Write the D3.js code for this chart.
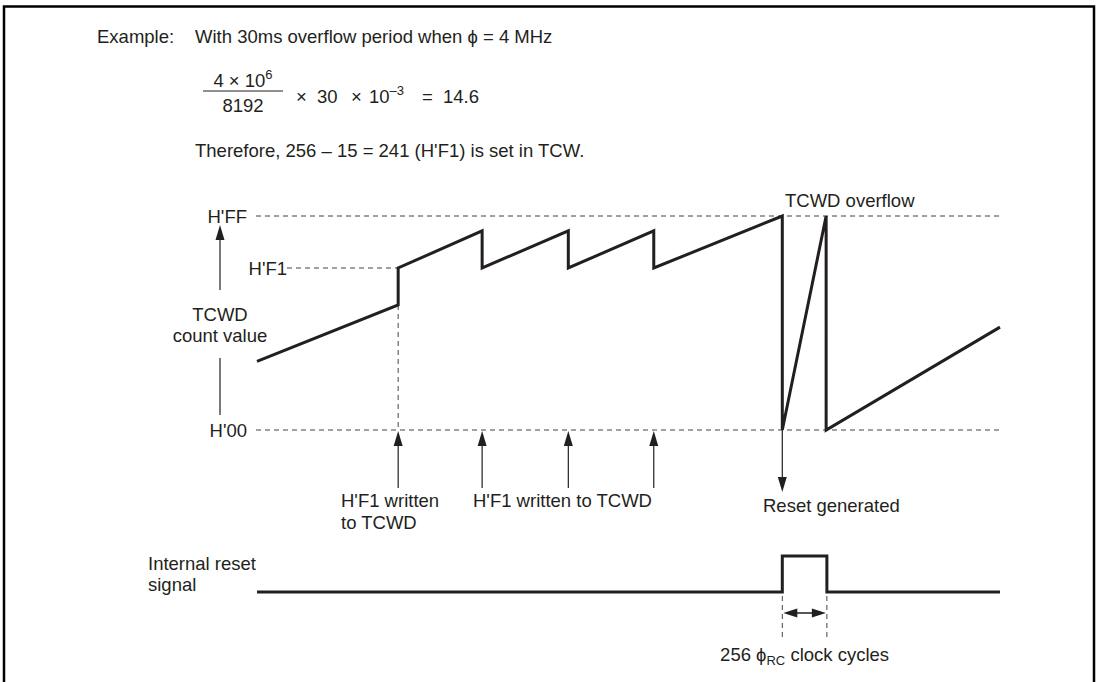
<!DOCTYPE html>
<html>
<head>
<meta charset="utf-8">
<script src="https://cdnjs.cloudflare.com/ajax/libs/d3/7.8.5/d3.min.js"></script>
<style>
  body { margin: 0; background: #fff; }
  text { font-family: "Liberation Sans", Arial, sans-serif; font-size: 18.5px; fill: #231f20; }
</style>
</head>
<body>
<div id="my_dataviz"></div>
<script>
// counter levels (named ticks on the left)
var levelNames = ["H'00", "H'F1", "H'FF"];
var levelValues = [0, 241, 255];

// TCWD count waveform: time (0-100) and count value
var countTime = [0, 19, 19, 30.3, 30.3, 41.9, 41.9, 53.4, 53.4, 70.7, 70.7, 76.6, 76.6, 100];
var countValue = [102, 186, 241, 251, 241, 251, 241, 251, 241, 255, 0, 255, 0, 153];

// times where H'F1 is written, and the reset time
var writeTimes = [19, 30.3, 41.9, 53.4];
var resetTime = 70.7;

// internal reset signal
var resetSigTime = [0, 70.7, 70.7, 76.7, 76.7, 100];
var resetSigLevel = [0, 0, 1, 1, 0, 0];

var width = 1100, height = 682;
var ink = "#231f20";

var svg = d3.select("#my_dataviz")
  .append("svg")
    .attr("width", width)
    .attr("height", height);

// frame (no bottom edge, it is cut by the page)
svg.append("path")
  .attr("d", "M4,690 L4,6.5 L1094,6.5 L1094,690")
  .attr("fill", "none")
  .attr("stroke", "#000")
  .attr("stroke-width", 2.5);

// scales
var x = d3.scaleLinear().domain([0, 100]).range([257, 1000]);
var y = d3.scaleLinear().domain([0, 241, 255]).range([430, 268, 216]);
var ySig = d3.scaleLinear().domain([0, 1]).range([592, 556]);

// filled arrow head, tip at (tx,ty), pointing in direction dir (radians)
function arrowHead(g, tx, ty, dir, len, half) {
  var bx = tx - Math.cos(dir) * len, by = ty - Math.sin(dir) * len;
  var px = -Math.sin(dir) * half, py = Math.cos(dir) * half;
  g.append("path")
    .attr("d", "M" + tx + "," + ty + "L" + (bx + px) + "," + (by + py) + "L" + (bx - px) + "," + (by - py) + "Z")
    .attr("fill", ink);
}

// ---- header text ----
svg.append("text").attr("x", 97).attr("y", 43).text("Example:");
svg.append("text").attr("x", 195).attr("y", 43).text("With 30ms overflow period when \u03D5 = 4 MHz");

// fraction
var num = svg.append("text").attr("x", 243).attr("y", 87).attr("text-anchor", "middle");
num.append("tspan").text("4 \u00D7 10");
num.append("tspan").attr("dy", -8).style("font-size", "13px").text("6");
svg.append("text").attr("x", 243).attr("y", 112).attr("text-anchor", "middle").text("8192");
svg.append("line")
  .attr("x1", 203).attr("x2", 283).attr("y1", 91).attr("y2", 91)
  .attr("stroke", ink).attr("stroke-width", 1.2);

var rest = svg.append("text").attr("y", 103);
rest.append("tspan").attr("x", 296).text("\u00D7");
rest.append("tspan").attr("x", 317).text("30");
rest.append("tspan").attr("x", 351).text("\u00D7");
rest.append("tspan").attr("x", 369).text("10");
rest.append("tspan").attr("dy", -8).style("font-size", "13px").text("\u20133");
rest.append("tspan").attr("x", 422).attr("dy", 8).text("=");
rest.append("tspan").attr("x", 443).text("14.6");

svg.append("text").attr("x", 195).attr("y", 157)
  .text("Therefore, 256 \u2013 15 = 241 (H'F1) is set in TCW.");

// ---- level guide lines ----
var dash = "5,4";
svg.selectAll(".lvl")
  .data([0, 255])
  .enter().append("line")
    .attr("x1", x(0) - 1).attr("x2", x(100))
    .attr("y1", function(d) { return y(d); })
    .attr("y2", function(d) { return y(d); })
    .attr("stroke", "#444").attr("stroke-width", 1)
    .attr("stroke-dasharray", dash);

// H'F1 short guide
svg.append("line")
  .attr("x1", 287).attr("x2", x(writeTimes[0]))
  .attr("y1", y(241)).attr("y2", y(241))
  .attr("stroke", "#444").attr("stroke-dasharray", dash);

// first write: dashed drop down to H'00
svg.append("line")
  .attr("x1", x(writeTimes[0])).attr("x2", x(writeTimes[0]))
  .attr("y1", y(186)).attr("y2", y(0))
  .attr("stroke", "#444").attr("stroke-dasharray", dash);

// level labels
svg.selectAll(".lvlLabel")
  .data(levelValues)
  .enter().append("text")
    .attr("x", function(d) { return d === 241 ? 287 : 247; })
    .attr("y", function(d) { return y(d) + 7; })
    .attr("text-anchor", "end")
    .text(function(d, i) { return levelNames[i]; });

// left axis arrow + label
svg.append("line").attr("x1", 220).attr("x2", 220).attr("y1", 290).attr("y2", y(255) + 12)
  .attr("stroke", ink).attr("stroke-width", 1.2);
arrowHead(svg, 220, y(255) + 9, -Math.PI / 2, 15, 4.5);
svg.append("line").attr("x1", 220).attr("x2", 220).attr("y1", 358).attr("y2", 415)
  .attr("stroke", ink).attr("stroke-width", 1.2);
svg.append("text").attr("x", 220).attr("y", 321).attr("text-anchor", "middle").text("TCWD");
svg.append("text").attr("x", 220).attr("y", 342).attr("text-anchor", "middle").text("count value");

// ---- TCWD count waveform ----
var countPts = countTime.map(function(t, i) { return [t, countValue[i]]; });
svg.append("path")
  .datum(countPts)
  .attr("fill", "none")
  .attr("stroke", ink)
  .attr("stroke-width", 3)
  .attr("stroke-linejoin", "miter")
  .attr("d", d3.line().x(function(d) { return x(d[0]); }).y(function(d) { return y(d[1]); }));

svg.append("text").attr("x", 785).attr("y", 207).text("TCWD overflow");

// write arrows (pointing up to H'00)
writeTimes.forEach(function(t) {
  svg.append("line")
    .attr("x1", x(t)).attr("x2", x(t))
    .attr("y1", 488).attr("y2", y(0) + 10)
    .attr("stroke", ink).attr("stroke-width", 1.2);
  arrowHead(svg, x(t), y(0) + 1, -Math.PI / 2, 15, 4.5);
});
svg.append("text").attr("x", 341).attr("y", 507).text("H'F1 written");
svg.append("text").attr("x", 341).attr("y", 529).text("to TCWD");
svg.append("text").attr("x", 473).attr("y", 507).text("H'F1 written to TCWD");

// reset arrow (pointing down)
svg.append("line")
  .attr("x1", x(resetTime)).attr("x2", x(resetTime))
  .attr("y1", y(0)).attr("y2", 482)
  .attr("stroke", ink).attr("stroke-width", 1.2);
arrowHead(svg, x(resetTime), 492, Math.PI / 2, 15, 4.5);
svg.append("text").attr("x", 763).attr("y", 512).text("Reset generated");

// ---- internal reset signal ----
svg.append("text").attr("x", 148).attr("y", 570).text("Internal reset");
svg.append("text").attr("x", 148).attr("y", 591).text("signal");

var sigPts = resetSigTime.map(function(t, i) { return [t, resetSigLevel[i]]; });
svg.append("path")
  .datum(sigPts)
  .attr("fill", "none")
  .attr("stroke", ink)
  .attr("stroke-width", 3)
  .attr("d", d3.line().x(function(d) { return x(d[0]); }).y(function(d) { return ySig(d[1]); }));

// pulse width marker
var p0 = x(resetSigTime[1]), p1 = x(resetSigTime[3]);
[p0, p1].forEach(function(px) {
  svg.append("line")
    .attr("x1", px).attr("x2", px).attr("y1", 596).attr("y2", 638)
    .attr("stroke", "#444").attr("stroke-dasharray", dash);
});
svg.append("line").attr("x1", p0 + 8).attr("x2", p1 - 8).attr("y1", 613).attr("y2", 613)
  .attr("stroke", ink).attr("stroke-width", 1.5);
arrowHead(svg, p0 + 1, 613, Math.PI, 14, 4.5);
arrowHead(svg, p1 - 1, 613, 0, 14, 4.5);

var cyc = svg.append("text").attr("x", (p0 + p1) / 2).attr("y", 661).attr("text-anchor", "middle");
cyc.append("tspan").text("256 \u03D5");
cyc.append("tspan").attr("dy", 4).style("font-size", "13px").text("RC");
cyc.append("tspan").attr("dy", -4).text(" clock cycles");
</script>
</body>
</html>
